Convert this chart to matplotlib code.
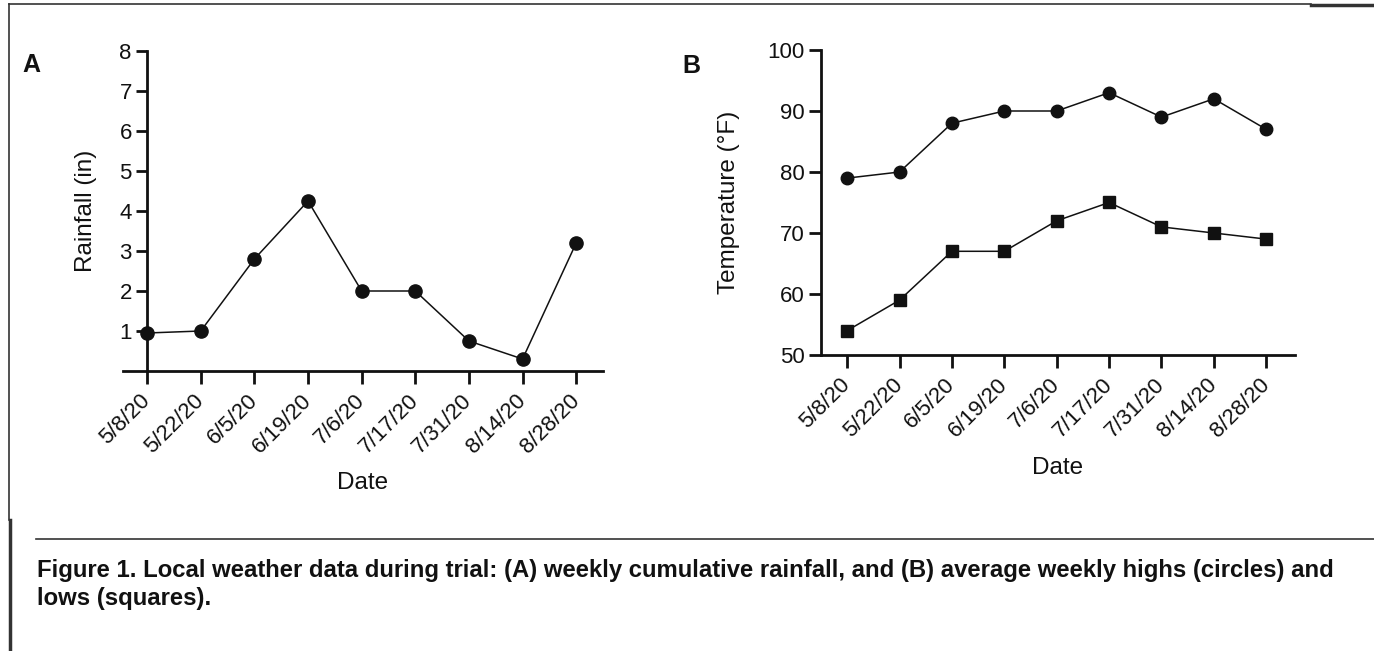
import matplotlib
matplotlib.use("Agg")
import matplotlib.pyplot as plt
from matplotlib.lines import Line2D

plt.rcParams['font.family'] = ['Liberation Sans', 'DejaVu Sans']

# data
dates = ["5/8/20", "5/22/20", "6/5/20", "6/19/20", "7/6/20",
         "7/17/20", "7/31/20", "8/14/20", "8/28/20"]
rainfall = [0.95, 1.0, 2.8, 4.25, 2.0, 2.0, 0.75, 0.3, 3.2]
temp_high = [79, 80, 88, 90, 90, 93, 89, 92, 87]
temp_low = [54, 59, 67, 67, 72, 75, 71, 70, 69]

W, H = 1374, 651
fig = plt.figure(figsize=(W / 100, H / 100), dpi=100)
ink = "#111111"


def box(x0, y0, x1, y1):
    # pixel box (top-left origin) -> figure rect
    return [x0 / W, 1 - y1 / H, (x1 - x0) / W, (y1 - y0) / H]


def style(ax):
    for s in ("top", "right"):
        ax.spines[s].set_visible(False)
    for s in ("left", "bottom"):
        ax.spines[s].set_linewidth(2.0)
        ax.spines[s].set_color(ink)
    ax.tick_params(axis="both", width=2.0, color=ink, labelsize=16, labelcolor=ink)
    ax.tick_params(axis="y", length=7, pad=3)
    ax.tick_params(axis="x", length=9, pad=10)
    ax.set_xticks(range(len(dates)))
    ax.set_xticklabels(dates, rotation=45, ha="right", va="center",
                       rotation_mode="anchor")
    ax.patch.set_alpha(0)


# Panel A - rainfall
axA = fig.add_axes(box(123, 51, 603, 371))
x = list(range(len(dates)))
axA.plot(x, rainfall, color=ink, lw=1.1, marker="o", ms=9.5, clip_on=False)
axA.set_xlim(-0.45, 8.5)
axA.set_ylim(0, 8)
axA.spines["left"].set_position(("data", 0))
axA.set_yticks(range(1, 9))
style(axA)
axA.tick_params(axis="y", length=8)
axA.set_ylabel("Rainfall (in)", fontsize=17.5, color=ink)
axA.yaxis.set_label_coords(-0.054, 0.5)
axA.set_xlabel("Date", fontsize=17.5, color=ink)
axA.xaxis.set_label_coords(0.5, -0.315)

# Panel B - temperature
axB = fig.add_axes(box(821, 50, 1295, 355))
axB.plot(x, temp_high, color=ink, lw=1.1, marker="o", ms=9, clip_on=False)
axB.plot(x, temp_low, color=ink, lw=1.1, marker="s", ms=8.5, clip_on=False)
axB.set_xlim(-0.5, 8.55)
axB.set_ylim(50, 100)
axB.set_yticks(range(50, 101, 10))
style(axB)
axB.tick_params(axis="y", length=9)
axB.set_ylabel("Temperature (°F)", fontsize=17.5, color=ink)
axB.yaxis.set_label_coords(-0.171, 0.5)
axB.set_xlabel("Date", fontsize=17.5, color=ink)
axB.xaxis.set_label_coords(0.5, -0.334)

# panel letters
fig.text(31 / W, 1 - 65 / H, "A", fontsize=18, fontweight="bold",
         ha="center", va="center", color=ink)
fig.text(691 / W, 1 - 66 / H, "B", fontsize=18, fontweight="bold",
         ha="center", va="center", color=ink)

# frame lines
frame = "#333333"
for (xa, ya, xb, yb, lw) in [(9, 4, 1311, 4, 1.2), (1311, 5, 1374, 5, 2.5),
                              (9, 4, 9, 520, 1.2), (10, 520, 10, 651, 2.5),
                              (36, 539, 1374, 539, 1.2)]:
    fig.add_artist(Line2D([xa / W, xb / W], [1 - ya / H, 1 - yb / H],
                          transform=fig.transFigure, color=frame, lw=lw))

# caption
fig.text(37 / W, 1 - 570 / H,
         "Figure 1. Local weather data during trial: (A) weekly cumulative "
         "rainfall, and (B) average weekly highs (circles) and",
         fontsize=17.2, fontweight="bold", ha="left", va="center", color=ink)
fig.text(37 / W, 1 - 598 / H, "lows (squares).",
         fontsize=17.2, fontweight="bold", ha="left", va="center", color=ink)

fig.savefig("out.png", dpi=100)
